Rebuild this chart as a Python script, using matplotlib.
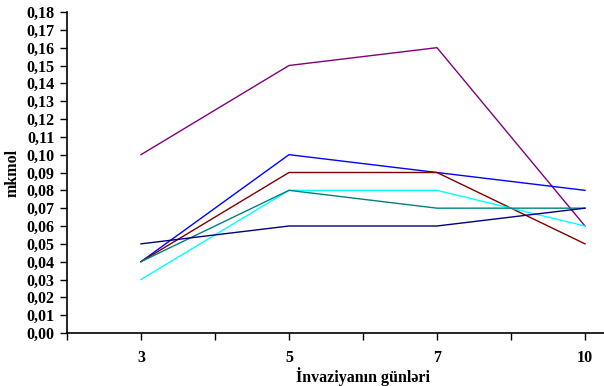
import matplotlib
matplotlib.use("Agg")
import matplotlib.pyplot as plt
from matplotlib.ticker import FuncFormatter, MultipleLocator

# data
days = ["3", "5", "7", "10"]
purple = [0.10, 0.15, 0.16, 0.06]
blue = [0.04, 0.10, 0.09, 0.08]
darkred = [0.04, 0.09, 0.09, 0.05]
cyan = [0.03, 0.08, 0.08, 0.06]
teal = [0.04, 0.08, 0.07, 0.07]
navy = [0.05, 0.06, 0.06, 0.07]

series = [
    (purple, "#800080"),
    (blue, "#0000FF"),
    (darkred, "#800000"),
    (cyan, "#00FFFF"),
    (teal, "#008080"),
    (navy, "#000080"),
]

plt.rcParams["font.family"] = ["Liberation Serif", "DejaVu Serif"]
plt.rcParams["font.weight"] = "bold"

fig = plt.figure(figsize=(6.04, 3.86), dpi=100)
ax = fig.add_axes([67 / 604, 1 - 333 / 386, 1 - 67 / 604, (333 - 12) / 386])

x = list(range(len(days)))
for vals, col in series:
    ax.plot(x, vals, color=col, lw=1.0)

ax.set_ylim(0, 0.18)
ax.yaxis.set_major_locator(MultipleLocator(0.01))
ax.yaxis.set_major_formatter(FuncFormatter(lambda v, p: ("%.2f" % v).replace(".", ",")))
ax.set_xticks([i * 0.5 - 0.5 for i in range(9)])
ax.set_xticklabels(["" if i % 2 == 0 else days[i // 2] for i in range(8)] + [""])
# set limits after the ticks, otherwise the ticks stretch them
ax.set_xlim(-0.5, (604 - 67) / 148 - 0.5)
ax.tick_params(axis="both", direction="out", length=5, width=1, labelsize=11.5)
ax.tick_params(axis="x", pad=7)
ax.tick_params(axis="y", pad=4)

for s in ["top", "right"]:
    ax.spines[s].set_visible(False)
for s in ["left", "bottom"]:
    ax.spines[s].set_linewidth(1.2)

ax.set_xlabel("İnvaziyanın günləri", fontsize=11.5, fontweight="bold")
ax.xaxis.set_label_coords((363 - 67) / 537, -(367 - 333) / 321)
ax.set_ylabel("mkmol", fontsize=11.5, fontweight="bold", labelpad=4)

fig.savefig("out.png", dpi=100)
